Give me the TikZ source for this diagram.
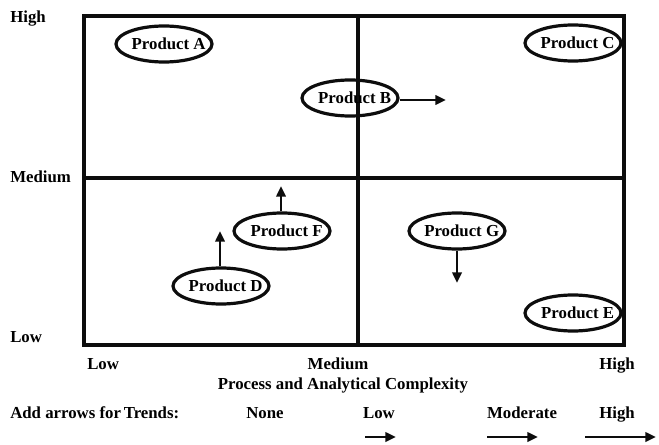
\documentclass[tikz,border=0pt]{standalone}
\usepackage{fontspec}
\setmainfont{Liberation Serif}
\usepackage{tikz}
\usetikzlibrary{arrows.meta, positioning, shapes.geometric}
\definecolor{mainBlack}{gray}{0.05}

\newcommand{\prodText}[1]{\makebox[0pt]{\hspace*{7pt}Product #1}}

\tikzset{
  frame/.style={line width=2.6pt, mainBlack},
  product/.style={draw=mainBlack, ellipse, line width=2.4pt, inner sep=0pt,
    minimum width=72pt, minimum height=27pt,
    font=\fontsize{12.6}{14}\selectfont\bfseries},
  axisLabel/.style={font=\fontsize{12.6}{14}\selectfont\bfseries, inner sep=0pt, anchor=base},
  trend/.style={-{Triangle[length=8pt, width=7pt]}, line width=1.9pt, mainBlack}
}

\begin{document}
\begin{tikzpicture}[x=0.75pt, y=-0.75pt]
    \useasboundingbox (0,0) rectangle (659,445);
    \coordinate (TL) at (84,16);
    \coordinate (BR) at (624,345);

    % Grid
    \draw[frame] (TL) rectangle (BR);
    \draw[frame] (84,178) -- (624,178);
    \draw[frame] (358,16) -- (358,345);

    % Axis labels
    \node[axisLabel, anchor=base west] (yHigh) at (10,23) {High};
    \node[axisLabel, anchor=base west] (yMed) at (10,183) {Medium};
    \node[axisLabel, anchor=base west] (yLow) at (10,342) {Low};
    \node[axisLabel, anchor=base west] (xLow) at (87,369) {Low};
    \node[axisLabel] (xMed) at (338,369) {Medium};
    \node[axisLabel] (xHigh) at (617,369) {High};
    \node[axisLabel] (xTitle) at (343,389) {Process and Analytical Complexity};

    % Products
    \node[product] (prodA) at (164,44) {\prodText{A}};
    \node[product] (prodB) at (350,98) {\prodText{B}};
    \node[product] (prodC) at (573,43) {\prodText{C}};
    \node[product] (prodF) at (282,231) {\prodText{F}};
    \node[product] (prodD) at (221,286) {\prodText{D}};
    \node[product] (prodG) at (457,231) {\prodText{G}};
    \node[product] (prodE) at (573,313) {\prodText{E}};

    % Trends
    \coordinate (tipB) at (446,100);
    \coordinate (tipF) at (281,186);
    \coordinate (tipD) at (220,231);
    \coordinate (tipG) at (457,283);
    \draw[trend] (prodB.east |- tipB) -- (tipB);
    \draw[trend] (prodF.north -| tipF) -- (tipF);
    \draw[trend] (prodD.north -| tipD) -- (tipD);
    \draw[trend] (prodG.south) -- (tipG);

    % Legend
    \node[axisLabel, anchor=base west] (addArrows) at (10,418) {Add arrows for\,Trends:};
    \node[axisLabel] (lgNone) at (265,418) {None};
    \node[axisLabel] (lgLow) at (379,418) {Low};
    \node[axisLabel] (lgMod) at (522,418) {Moderate};
    \node[axisLabel] (lgHigh) at (617,418) {High};
    \coordinate (lowS) at (365,437);  \coordinate (lowE) at (396,437);
    \coordinate (modS) at (487,437);  \coordinate (modE) at (538,437);
    \coordinate (highS) at (585,437); \coordinate (highE) at (656,437);
    \draw[trend] (lowS) -- (lowE);
    \draw[trend] (modS) -- (modE);
    \draw[trend] (highS) -- (highE);
\end{tikzpicture}
\end{document}
